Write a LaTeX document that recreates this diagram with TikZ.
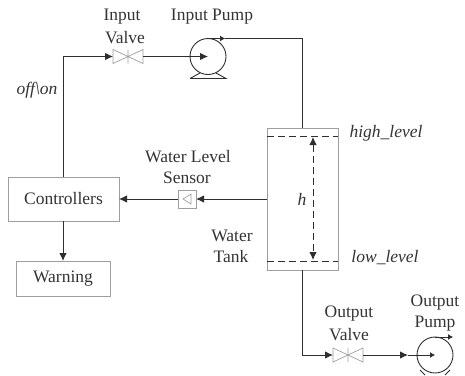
\documentclass[tikz,border=0pt]{standalone}
\usepackage{fontspec}
\setmainfont{Liberation Serif}
\usetikzlibrary{arrows.meta}
\definecolor{boxgray}{gray}{0.62}
\definecolor{linegray}{gray}{0.18}
\tikzset{
  every node/.style={inner sep=0pt,outer sep=0pt},
  lab/.style={font=\fontsize{17.5}{21}\selectfont,text=black!80},
  ilab/.style={font=\fontsize{17.5}{21}\selectfont\itshape,text=black!80},
  pbox/.style={draw=boxgray,line width=0.9pt,fill=white,font=\fontsize{17.5}{21}\selectfont,text=black!80},
  wire/.style={draw=linegray,line width=0.9pt},
  tip/.style={-{Latex[length=8pt,width=7.5pt]}},
  vlv/.style={draw=boxgray,line width=0.7pt},
  pmp/.style={draw=linegray,line width=0.9pt},
  lvl/.style={draw=linegray,line width=0.9pt,dash pattern=on 7pt off 4pt},
}
\begin{document}
\begin{tikzpicture}[x=1pt,y=-1pt]
\useasboundingbox (0,0) rectangle (465,375);
% boxes
\node[pbox,minimum width=111pt,minimum height=44pt] (ctrl) at (63.5,199) {Controllers};
\node[pbox,minimum width=94pt,minimum height=35pt] (warn) at (63,278.5) {Warning};
\node[draw=boxgray,line width=0.9pt,minimum width=71pt,minimum height=142pt] (tank) at (302.5,199) {};
\node[draw=boxgray,line width=0.9pt,minimum width=18pt,minimum height=18pt] (sens) at (187,199) {};
\draw[vlv] (191,194) -- (183,199) -- (191,204) -- cycle;
% valves
\coordinate (ivL) at (113,56.5); \coordinate (ivR) at (143,56.5);
\draw[vlv] (113,49.5) -- (143,63.5) -- (143,49.5) -- (113,63.5) -- cycle (128,49.5) -- (128,63.5);
\coordinate (ovL) at (333,355); \coordinate (ovR) at (363,355);
\draw[vlv] (333,348) -- (363,362) -- (363,348) -- (333,362) -- cycle (348,348) -- (348,362);
% pumps
\node[circle,pmp,minimum size=36pt] (ipump) at (208,56.5) {};
\node[circle,pmp,minimum size=36pt] (opump) at (435,355) {};
\draw[pmp] (190,78.5) -- (226,78.5) -- (216,73) (190,78.5) -- (200,73);
\draw[pmp] (420,370) -- (425,375) (450,370) -- (445,375);
% coordinates
\coordinate (ipc) at (208,56.5);
\coordinate (opc) at (435,355);
\coordinate (iout) at (206,38.5);
\coordinate (iarr) at (225,38.5);
\coordinate (oout) at (435,337);
\coordinate (oarr) at (453,337);
\coordinate (ttop) at (302,38.5);
\coordinate (tk) at (302,128);
\coordinate (tb) at (302,270);
\coordinate (tcorner) at (302,355);
\coordinate (ctop) at (63,56.5);
% wires
\draw[wire,tip] (ctrl.north -| ctop) -- (ctop) -- (ivL);
\draw[wire,tip] (ivR) -- (ipc);
\draw[pmp,-{Latex[length=5pt,width=6pt]}] (iout) -- (iarr);
\draw[wire] (iarr) -- (ttop) -- (tk);
\draw[wire,tip] (tank.west) -- (sens.east);
\draw[wire,tip] (sens.west) -- (ctrl.east);
\draw[wire,tip] (ctrl.south -| ctop) -- (warn.north -| ctop);
\draw[wire,tip] (tb) -- (tcorner) -- (ovL);
\draw[wire,tip] (ovR) -- (408,355);
\draw[wire,-{Latex[length=5pt,width=6pt]}] (408,355) -- (opc);
\draw[pmp,-{Latex[length=5pt,width=6pt]}] (oout) -- (oarr);
% levels
\coordinate (hiL) at (267,136); \coordinate (hiR) at (338,136);
\coordinate (loL) at (267,261); \coordinate (loR) at (338,261);
\draw[lvl] (hiL) -- (hiR);
\draw[lvl] (loL) -- (loR);
\coordinate (hT) at (313,137); \coordinate (hB) at (313,260);
\draw[lvl,{Latex[length=8pt,width=7.5pt]}-{Latex[length=8pt,width=7.5pt]}] (hT) -- (hB);
% labels
\node[lab] (l1) at (122,17) {Input};
\node[lab] (l2) at (125,38) {Valve};
\node[lab] (l3) at (212,17) {Input Pump};
\node[lab] (l4) at (349,314) {Output};
\node[lab] (l5) at (349,335) {Valve};
\node[lab] (l6) at (435,303) {Output};
\node[lab] (l7) at (435,324) {Pump};
\node[lab] (l8) at (188,157) {Water Level};
\node[lab] (l9) at (187,178) {Sensor};
\node[lab] (l10) at (232,236) {Water};
\node[lab] (l11) at (231,257) {Tank};
\node[ilab] (l12) at (302,199) {h};
\node[ilab] (l13) at (386,133) {high\_level};
\node[ilab] (l14) at (385,258) {low\_level};
\node[ilab] (l15) at (37,90) {off\textbackslash on};
\end{tikzpicture}
\end{document}
